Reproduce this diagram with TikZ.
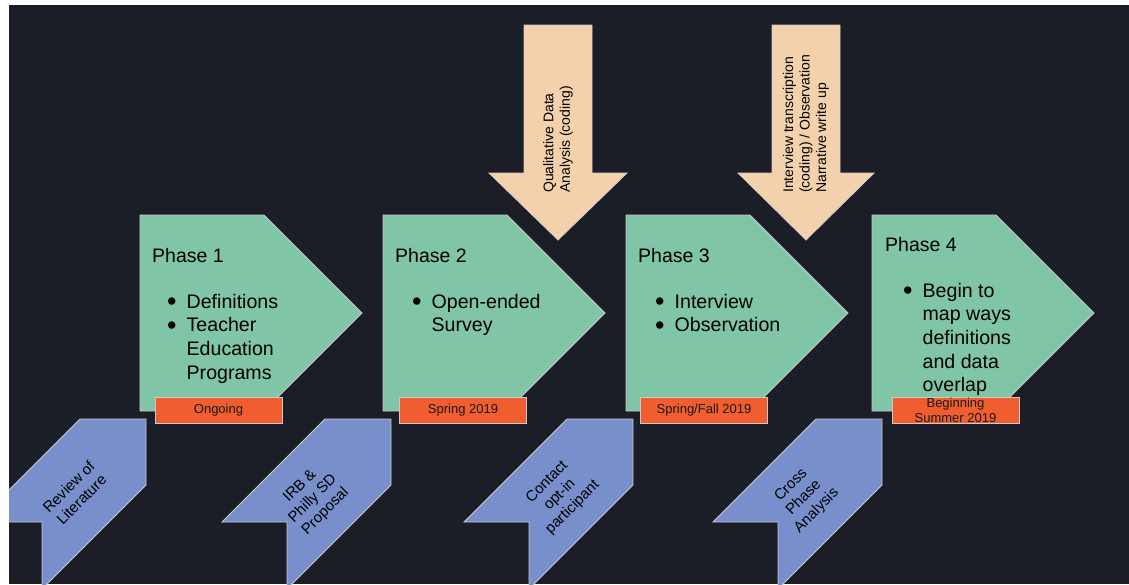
\documentclass[tikz,border=0pt]{standalone}
\usepackage{fontspec}
\setmainfont{Liberation Sans}
\usepackage{xcolor}
\usetikzlibrary{positioning}
\definecolor{bg}{HTML}{1B1E27}
\definecolor{phasegreen}{HTML}{80C5A6}
\definecolor{dateorange}{HTML}{F05E30}
\definecolor{prepblue}{HTML}{798FCB}
\definecolor{codebeige}{HTML}{F2D1AC}
\definecolor{edge}{HTML}{C8CACE}
\newcommand{\bigdot}{\raisebox{-0.12em}{\fontsize{27}{0}\selectfont\textbullet}}

\begin{document}
\begin{tikzpicture}[x=1pt, y=-1pt,
    phase/.style={fill=phasegreen, draw=edge, line width=0.8pt},
    prep/.style={fill=prepblue, draw=edge, line width=0.8pt},
    coding/.style={fill=codebeige, draw=edge!70!codebeige, line width=0.8pt},
    datebox/.style={fill=dateorange, draw=edge, line width=0.8pt, minimum width=127pt, minimum height=26pt, inner sep=0pt, text=black!90, font=\fontsize{13}{15}\selectfont},
    head/.style={anchor=base west, inner sep=0pt, font=\fontsize{19.5}{23.7}\selectfont},
    items/.style={anchor=base west, inner sep=0pt, font=\fontsize{19.6}{23.7}\selectfont},
    note/.style={inner sep=0pt, align=center, font=\fontsize{14}{16.5}\selectfont},
    tag/.style={inner sep=0pt, align=center, rotate=45, font=\fontsize{15}{18}\selectfont}]
     \useasboundingbox (0,0) rectangle (1129,584);
     \fill[white] (0,0) rectangle (1129,584);
     \fill[bg] (9,5) rectangle (1129,584);
     \begin{scope}
     \clip (9,5) rectangle (1129,584);
     % analysis arrows from above
     \draw[coding] (524,25) -- (592,25) -- (592,173) -- (627,173) -- (558,240) -- (489,173) -- (524,173) -- cycle;
     \draw[coding] (772,25) -- (840,25) -- (840,173) -- (874,173) -- (806,240) -- (738,173) -- (772,173) -- cycle;
     \node[note, rotate=90, anchor=west, align=left] (qda) at (558,193) {Qualitative Data\\Analysis (coding)};
     \node[note, rotate=90, anchor=west, align=left] (itr) at (806,193) {Interview transcription\\(coding) / Observation\\Narrative write up};
     % phases
     \draw[phase] (140,215) -- (264,215) -- (362,313) -- (264,411) -- (140,411) -- cycle;
     \draw[phase] (383,215) -- (507,215) -- (605,313) -- (507,411) -- (383,411) -- cycle;
     \draw[phase] (626,215) -- (750,215) -- (848,313) -- (750,411) -- (626,411) -- cycle;
     \draw[phase] (872,215) -- (996,215) -- (1094,313) -- (996,411) -- (872,411) -- cycle;
     \node[head] (ph1) at (152,262) {Phase 1};
     \node[head] (ph2) at (395,262) {Phase 2};
     \node[head] (ph3) at (638,262) {Phase 3};
     \node[head] (ph4) at (885,251) {Phase 4};
     \node[items] (it1) at (167,308) {\begin{tabular}[t]{@{}l@{\hspace{10pt}}l@{}}\bigdot & Definitions\\ \bigdot & Teacher\\ & Education\\ & Programs\end{tabular}};
     \node[items] (it2) at (412,308) {\begin{tabular}[t]{@{}l@{\hspace{10pt}}l@{}}\bigdot & Open-ended\\ & Survey\end{tabular}};
     \node[items] (it3) at (655,308) {\begin{tabular}[t]{@{}l@{\hspace{10pt}}l@{}}\bigdot & Interview\\ \bigdot & Observation\end{tabular}};
     \node[items] (it4) at (903,297) {\begin{tabular}[t]{@{}l@{\hspace{10pt}}l@{}}\bigdot & Begin to\\ & map ways\\ & definitions\\ & and data\\ & overlap\end{tabular}};
     % dates
     \node[datebox] (d1) at (218.5,410) {Ongoing};
     \node[datebox] (d2) at (463,410) {Spring 2019};
     \node[datebox] (d3) at (704,410) {Spring/Fall 2019};
     \node[datebox] (d4) at (955.5,410) {};
     \node[note, font=\fontsize{13}{15}\selectfont, text=black!90] (d4t) at (d4) {Beginning\\Summer 2019};
     % preparation steps
     \draw[prep] (42,522) -- (-23,522) -- (80,419) -- (146,419) -- (146,485) -- (42,589) -- cycle;
     \draw[prep] (287,522) -- (222,522) -- (325,419) -- (391,419) -- (391,485) -- (287,589) -- cycle;
     \draw[prep] (529,522) -- (464,522) -- (567,419) -- (633,419) -- (633,485) -- (529,589) -- cycle;
     \draw[prep] (778,522) -- (713,522) -- (816,419) -- (882,419) -- (882,485) -- (778,589) -- cycle;
     \node[tag] (rl) at (75,493) {Review of\\Literature};
     \node[tag] (irb) at (313,499) {IRB \&\\Philly SD\\Proposal};
     \node[tag] (cop) at (560,495) {Contact\\opt-in\\participant};
     \node[tag] (cpa) at (804,498) {Cross\\Phase\\Analysis};
     \end{scope}
\end{tikzpicture}
\end{document}
